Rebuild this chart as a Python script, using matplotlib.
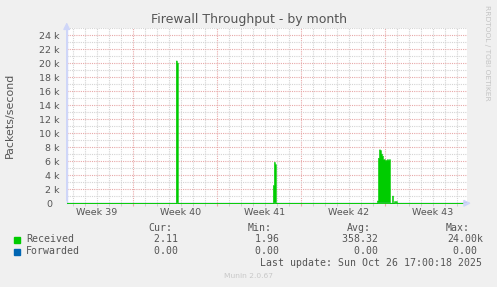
import matplotlib
matplotlib.use('Agg')
import matplotlib.pyplot as plt
import matplotlib.dates as mdates
import pandas as pd
import numpy as np

# Munin colours
BACK = '#F0F0F0'
CANVAS = '#FFFFFF'
FONT = '#555555'
AXIS = '#CFD6F8'
GREEN = '#00CC00'
BLUE = '#0066B3'
GRID = '#D4D4D4'
MGRID = '#E8A8A8'

# 2-hour samples, munin month graph (400 px x 2h)
range_start = '2025-09-23 12:00'
range_end = '2025-10-26 20:00'

received_times = [
    '2025-10-02 14:00', '2025-10-02 16:00',
    '2025-10-10 16:00', '2025-10-10 18:00', '2025-10-10 20:00',
    '2025-10-19 08:00', '2025-10-19 10:00', '2025-10-19 12:00', '2025-10-19 14:00',
    '2025-10-19 16:00', '2025-10-19 18:00', '2025-10-19 20:00', '2025-10-19 22:00',
    '2025-10-20 00:00', '2025-10-20 02:00', '2025-10-20 04:00', '2025-10-20 06:00',
    '2025-10-20 08:00', '2025-10-20 14:00', '2025-10-20 18:00', '2025-10-20 20:00',
    '2025-10-20 22:00',
]
received_values = [
    20400, 20100,
    2600, 5900, 5600,
    400, 6500, 7700, 7600,
    7100, 6800, 6300, 6300,
    6100, 6200, 6300, 6200,
    6300, 1100, 300, 300,
    300,
]
forwarded_value = 0.0

legend_names = ['Received', 'Forwarded']
legend_colors = [GREEN, BLUE]
stat_headers = ['Cur:', 'Min:', 'Avg:', 'Max:']
stat_received = ['2.11', '1.96', '358.32', '24.00k']
stat_forwarded = ['0.00', '0.00', '0.00', '0.00']
last_update = 'Last update: Sun Oct 26 17:00:18 2025'

W, H = 497, 287
fig = plt.figure(figsize=(W / 100, H / 100), dpi=100, facecolor=BACK)

def px(x, y):
    return x / W, 1 - y / H

ax_l, ax_r, ax_t, ax_b = 66.7, 467.0, 28.3, 203.3
ax = fig.add_axes([ax_l / W, 1 - ax_b / H, (ax_r - ax_l) / W, (ax_b - ax_t) / H])
ax.set_facecolor(CANVAS)

times = pd.date_range(range_start, range_end, freq='2h')
series = pd.Series(0.0, index=times)
series[pd.to_datetime(received_times)] = received_values

ax.fill_between(series.index, series.values, step='post', facecolor=GREEN,
                edgecolor=GREEN, lw=0.4, zorder=3)
ax.plot(series.index, np.full(len(series), forwarded_value), color='#8aa2d6', lw=1.0, zorder=4)

ax.set_xlim(pd.Timestamp(range_start), pd.Timestamp(range_end))
ax.set_ylim(0, 25000)

# grid
ax.xaxis.set_major_locator(mdates.WeekdayLocator(byweekday=mdates.MO))
ax.xaxis.set_minor_locator(mdates.DayLocator())
ax.xaxis.set_major_formatter(plt.NullFormatter())
ax.yaxis.set_major_locator(plt.MultipleLocator(2000))
ax.yaxis.set_minor_locator(plt.MultipleLocator(1000))
ax.yaxis.set_major_formatter(plt.FuncFormatter(lambda v, p: '0  ' if v == 0 else f'{v / 1000:.0f} k'))
ax.grid(True, which='minor', color=GRID, lw=0.8, linestyle=(0, (1, 1)), zorder=1)
ax.grid(True, which='major', color=MGRID, lw=0.8, linestyle=(0, (1, 1)), zorder=2)
ax.set_axisbelow(True)

ax.tick_params(axis='x', which='major', length=2, color=MGRID, pad=1)
ax.tick_params(axis='x', which='minor', length=2, color='#c8c8c8')
ax.tick_params(axis='y', which='both', length=0, pad=5.3, labelsize=6.8, labelcolor=FONT)
for s in ['top', 'right', 'bottom']:
    ax.spines[s].set_visible(False)
ax.spines['left'].set_color(AXIS)
ax.spines['left'].set_linewidth(1)

# week labels centred in each week
x0, x1 = pd.Timestamp(range_start), pd.Timestamp(range_end)
for monday in pd.date_range(x0 - pd.Timedelta(days=7), x1, freq='W-MON'):
    mid = monday + pd.Timedelta(days=3.5)
    if x0 <= mid <= x1:
        ax.text(mid, -0.055, f'Week {monday.isocalendar()[1]}', transform=ax.get_xaxis_transform(),
                ha='center', va='center', fontsize=6.8, color=FONT)

# axis arrows
ax.annotate('', xy=(0, 1.05), xytext=(0, 0), xycoords='axes fraction',
            arrowprops=dict(arrowstyle='-|>,head_length=0.4,head_width=0.2', color=AXIS, lw=1))
ax.annotate('', xy=(1.017, 0), xytext=(0.99, 0), xycoords='axes fraction',
            arrowprops=dict(arrowstyle='-|>,head_length=0.4,head_width=0.2', color=AXIS, lw=1))

fig.text(*px(249, 19), 'Firewall Throughput - by month', ha='center', va='center',
         fontsize=9, color=FONT)
fig.text(*px(10, 115), 'Packets/second', ha='center', va='center', rotation=90,
         fontsize=7.9, color=FONT)
fig.text(*px(487, 53), 'RRDTOOL / TOBI OETIKER', ha='center', va='center', rotation=270,
         fontsize=5.4, color='#C4C4C4')
fig.text(*px(249, 276), 'Munin 2.0.67', ha='center', va='center', fontsize=5.4, color='#C8C8C8')

# legend block (values right-aligned, munin leaves a unit slot after each number)
mono = 'DejaVu Sans Mono'
header_right = [172, 272, 371, 470]
value_right = [184, 285, 384, 483]
for hx, htxt in zip(header_right, stat_headers):
    fig.text(*px(hx, 228), htxt, ha='right', va='center', fontsize=7.1, family=mono, color=FONT)
rows_y = [239.5, 251.5]
for ry, name, col, vals in zip(rows_y, legend_names, legend_colors, [stat_received, stat_forwarded]):
    fig.patches.append(plt.Rectangle(px(14, ry + 3), 6 / W, 6 / H, transform=fig.transFigure,
                                     color=col, figure=fig))
    fig.text(*px(26, ry), name, ha='left', va='center', fontsize=7.1, family=mono, color=FONT)
    for vx, v in zip(value_right, vals):
        if not v.endswith('k'):
            v = v + ' '
        fig.text(*px(vx, ry), v, ha='right', va='center', fontsize=7.1, family=mono, color=FONT)
fig.text(*px(482.5, 263.5), last_update, ha='right', va='center', fontsize=7.1, family=mono, color=FONT)

fig.savefig('out.png', dpi=100, facecolor=BACK)
